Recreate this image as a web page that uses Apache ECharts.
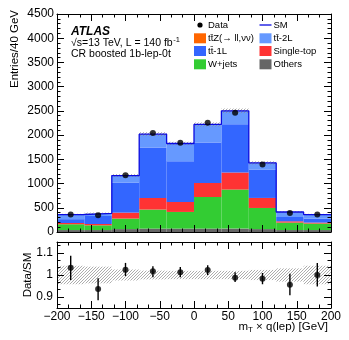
<!DOCTYPE html>
<html>
<head>
<meta charset="utf-8">
<script src="https://cdn.jsdelivr.net/npm/echarts@6/dist/echarts.min.js"></script>
<style>
  html, body { margin: 0; padding: 0; background: #fff; }
  #chart { width: 349px; height: 340px; }
</style>
</head>
<body>
<div id="chart"></div>
<script>
// bins of m_T x q(lep) [GeV]
const binEdges = [-200, -160, -120, -80, -40, 0, 40, 80, 120, 160, 200];

// stacked SM components, bottom to top
const others    = [40, 40, 60, 70, 70, 70, 70, 60, 40, 40];
const wjets     = [120, 98, 217, 393, 344, 653, 806, 436, 154, 134];
const singleTop = [26, 27, 123, 240, 206, 290, 352, 207, 27, 20];
const tt1L      = [79, 165, 621, 1042, 841, 835, 998, 587, 89, 83];
const tt2L      = [93, 54, 141, 271, 362, 368, 271, 133, 101, 81];
const ttZ       = [2, 2, 3, 4, 4, 4, 4, 3, 2, 2];

const dataCounts = [360, 345, 1172, 2046, 1840, 2253, 2460, 1393, 393, 360];

// ratio panel
const ratio   = [1.033, 0.936, 1.024, 1.017, 1.012, 1.023, 0.988, 0.983, 0.956, 1.000];
const ratioHi = [1.088, 0.985, 1.055, 1.040, 1.036, 1.044, 1.012, 1.009, 1.006, 1.055];
const ratioLo = [0.977, 0.885, 0.995, 0.990, 0.990, 1.000, 0.968, 0.958, 0.908, 0.948];
const sysUnc  = [0.042, 0.038, 0.025, 0.020, 0.019, 0.019, 0.019, 0.023, 0.030, 0.042];

const ratioTicks = [0.9, 1, 1.1];
const ratioMinorTicks = [0.8667, 0.9333, 0.9667, 1.0333, 1.0667, 1.1333];

const legendLeft  = ['Data', 'tt\u0304Z(\u2192 ll,\u03bd\u03bd)', 'tt\u0304-1L', 'W+jets'];
const legendRight = ['SM', 'tt\u0304-2L', 'Single-top', 'Others'];

const FONT = '"Liberation Sans", Arial, Helvetica, sans-serif';
const colors = {
  others: '#666666', wjets: '#33cc33', singleTop: '#ff3333',
  tt1L: '#3366ff', tt2L: '#6699ff', ttZ: '#ff6600', sm: '#0a0ae0'
};

// hatch pattern for uncertainty bands
function makeHatch(color) {
  const c = document.createElement('canvas');
  c.width = 3; c.height = 3;
  const g = c.getContext('2d');
  g.strokeStyle = color;
  g.lineWidth = 0.7;
  g.beginPath();
  g.moveTo(0, 3); g.lineTo(3, 0);
  g.moveTo(-1, 1); g.lineTo(1, -1);
  g.moveTo(2, 4); g.lineTo(4, 2);
  g.stroke();
  return { image: c, repeat: 'repeat' };
}
const hatch = makeHatch('#8a8a8a');

function measure(text, size) {
  const g = document.createElement('canvas').getContext('2d');
  g.font = size + 'px ' + FONT;
  return g.measureText(text).width;
}

const centers = binEdges.slice(0, -1).map((e, i) => (e + binEdges[i + 1]) / 2);

// build stacked rectangles
const comps = [
  ['Others', others, colors.others],
  ['W+jets', wjets, colors.wjets],
  ['Single-top', singleTop, colors.singleTop],
  ['tt-1L', tt1L, colors.tt1L],
  ['tt-2L', tt2L, colors.tt2L],
  ['ttZ', ttZ, colors.ttZ]
];
const base = centers.map(() => 0);
const stackSeries = comps.map(([name, vals, color]) => {
  const d = vals.map((v, i) => {
    const item = [binEdges[i], binEdges[i + 1], base[i], base[i] + v];
    base[i] += v;
    return item;
  });
  return {
    name: name, type: 'custom', xAxisIndex: 0, yAxisIndex: 0,
    encode: { x: [0, 1], y: [2, 3] },
    itemStyle: { color: color },
    renderItem: rectItem,
    data: d, z: 2
  };
});
const total = base.slice();

function rectItem(params, api) {
  const p0 = api.coord([api.value(0), api.value(3)]);
  const p1 = api.coord([api.value(1), api.value(2)]);
  return {
    type: 'rect',
    shape: { x: p0[0], y: p0[1], width: p1[0] - p0[0], height: p1[1] - p0[1] },
    style: { fill: api.visual('color') }
  };
}
function hatchItem(params, api) {
  const p0 = api.coord([api.value(0), api.value(3)]);
  const p1 = api.coord([api.value(1), api.value(2)]);
  return {
    type: 'rect',
    shape: { x: p0[0], y: p0[1], width: p1[0] - p0[0], height: p1[1] - p0[1] },
    style: { fill: hatch }
  };
}
function errItem(params, api) {
  const a = api.coord([api.value(0), api.value(1)]);
  const b = api.coord([api.value(0), api.value(2)]);
  return {
    type: 'line',
    shape: { x1: a[0], y1: a[1], x2: b[0], y2: b[1] },
    style: { stroke: '#000', lineWidth: 1.4 }
  };
}

const smLine = total.map((t, i) => [binEdges[i], t]);
smLine.push([binEdges[binEdges.length - 1], total[total.length - 1]]);

function xAx(grid, pos, labels) {
  return {
    gridIndex: grid, type: 'value', min: -200, max: 200, interval: 50, position: pos,
    axisLine: { onZero: false, lineStyle: { color: '#000', width: 1 } },
    axisTick: { inside: true, length: 7, lineStyle: { color: '#000' } },
    minorTick: { show: true, splitNumber: 3, length: 3.5, lineStyle: { color: '#000' } },
    axisLabel: {
      show: labels, color: '#000', fontSize: 12, fontFamily: FONT, margin: 3,
      formatter: v => String(v).replace('-', '\u2212')
    },
    splitLine: { show: false }, z: 10
  };
}
function yMain(pos, labels) {
  return {
    gridIndex: 0, type: 'value', min: 0, max: 4500, interval: 500, position: pos,
    axisLine: { onZero: false, lineStyle: { color: '#000', width: 1 } },
    axisTick: { inside: true, length: 7, lineStyle: { color: '#000' } },
    minorTick: { show: true, splitNumber: 5, length: 3.5, lineStyle: { color: '#000' } },
    axisLabel: {
      show: labels, color: '#000', fontSize: 12, fontFamily: FONT, margin: 3,
      formatter: v => String(v)
    },
    splitLine: { show: false }, z: 10
  };
}
function yRatio(pos, labels, ticks, len, line) {
  return {
    gridIndex: 1, type: 'value', min: 0.85, max: 1.15, position: pos,
    axisLine: { show: line, onZero: false, lineStyle: { color: '#000', width: 1 } },
    axisTick: { inside: true, length: len, customValues: ticks, lineStyle: { color: '#000' } },
    axisLabel: {
      show: labels, customValues: ticks, color: '#000', fontSize: 12, fontFamily: FONT, margin: 4,
      formatter: v => String(Math.round(v * 10) / 10)
    },
    splitLine: { show: false }, z: 10
  };
}

// legend graphics
const rowsY = [25, 38.3, 51, 64.3];
const legendColors = [[null, colors.ttZ, colors.tt1L, colors.wjets],
                      [null, colors.tt2L, colors.singleTop, colors.others]];
const graphics = [];
[[legendLeft, 194], [legendRight, 259.5]].forEach(([names, x0], col) => {
  names.forEach((name, r) => {
    const y = rowsY[r];
    if (r === 0 && col === 0) {
      graphics.push({ type: 'circle', shape: { cx: x0 + 6, cy: y, r: 2.6 }, style: { fill: '#000' } });
    } else if (r === 0 && col === 1) {
      graphics.push({ type: 'line', shape: { x1: x0, y1: y, x2: x0 + 12, y2: y }, style: { stroke: colors.sm, lineWidth: 1.3 } });
    } else {
      graphics.push({ type: 'rect', shape: { x: x0, y: y - 5, width: 12, height: 10 }, style: { fill: legendColors[col][r] } });
    }
    graphics.push({
      type: 'text', x: x0 + 14, y: y,
      style: { text: name, fontSize: 9.5, fontFamily: FONT, fill: '#000', textVerticalAlign: 'middle' }
    });
  });
});

// ATLAS label block
const lumiText = '\u221as=13 TeV, L = 140 fb';
graphics.push(
  { type: 'text', x: 71, y: 31.5, style: { text: 'ATLAS', fontSize: 12, fontWeight: 'bold', fontStyle: 'italic', fontFamily: FONT, fill: '#000', textVerticalAlign: 'middle' } },
  { type: 'text', x: 71, y: 43.5, style: { text: lumiText, fontSize: 10.5, fontFamily: FONT, fill: '#000', textVerticalAlign: 'middle' } },
  { type: 'text', x: 71 + measure(lumiText, 10.5) + 0.5, y: 39.5, style: { text: '-1', fontSize: 7.5, fontFamily: FONT, fill: '#000', textVerticalAlign: 'middle' } },
  { type: 'text', x: 71, y: 54, style: { text: 'CR boosted 1b-lep-0t', fontSize: 10.5, fontFamily: FONT, fill: '#000', textVerticalAlign: 'middle' } }
);

// axis titles
graphics.push(
  { type: 'text', x: 15, y: 10, rotation: Math.PI / 2, style: { text: 'Entries/40 GeV', fontSize: 11.5, fontFamily: FONT, fill: '#000', textAlign: 'right', textVerticalAlign: 'middle' } },
  { type: 'text', x: 28, y: 275, rotation: Math.PI / 2, style: { text: 'Data/SM', fontSize: 11.5, fontFamily: FONT, fill: '#000', textAlign: 'center', textVerticalAlign: 'middle' } }
);
const xt1 = 'm', xt2 = 'T', xt3 = ' \u00d7 q(lep) [GeV]';
const w1 = measure(xt1, 11.5), w2 = measure(xt2, 8), w3 = measure(xt3, 11.5);
const xStart = 328 - (w1 + w2 + w3);
graphics.push(
  { type: 'text', x: xStart, y: 327, style: { text: xt1, fontSize: 11.5, fontFamily: FONT, fill: '#000', textVerticalAlign: 'middle' } },
  { type: 'text', x: xStart + w1, y: 330, style: { text: xt2, fontSize: 8, fontFamily: FONT, fill: '#000', textVerticalAlign: 'middle' } },
  { type: 'text', x: xStart + w1 + w2, y: 327, style: { text: xt3, fontSize: 11.5, fontFamily: FONT, fill: '#000', textVerticalAlign: 'middle' } }
);

const chart = echarts.init(document.getElementById('chart'), null, { renderer: 'canvas' });
const option = {
  animation: false,
  backgroundColor: '#fff',
  grid: [
    { left: 57, right: 18, top: 14, height: 218, outerBoundsMode: 'none', containLabel: false },
    { left: 57, right: 18, top: 242, height: 66, outerBoundsMode: 'none', containLabel: false }
  ],
  xAxis: [xAx(0, 'bottom', false), xAx(0, 'top', false), xAx(1, 'bottom', true), xAx(1, 'top', false)],
  yAxis: [
    yMain('left', true), yMain('right', false),
    yRatio('left', true, ratioTicks, 7, true), yRatio('right', false, ratioTicks, 7, true),
    yRatio('left', false, ratioMinorTicks, 3.5, false), yRatio('right', false, ratioMinorTicks, 3.5, false)
  ],
  graphic: graphics,
  series: stackSeries.concat([
    {
      name: 'SM unc', type: 'custom', xAxisIndex: 0, yAxisIndex: 0,
      encode: { x: [0, 1], y: [2, 3] }, renderItem: hatchItem, z: 3,
      data: total.map((t, i) => [binEdges[i], binEdges[i + 1], t * (1 - sysUnc[i]), t * (1 + sysUnc[i])])
    },
    {
      name: 'SM', type: 'line', xAxisIndex: 0, yAxisIndex: 0, step: 'end',
      data: smLine, symbol: 'none', lineStyle: { color: colors.sm, width: 1.3 }, z: 4
    },
    {
      name: 'Data', type: 'scatter', xAxisIndex: 0, yAxisIndex: 0,
      data: centers.map((c, i) => [c, dataCounts[i]]),
      symbolSize: 6, itemStyle: { color: '#000' }, z: 6
    },
    {
      name: 'Ratio unc', type: 'custom', xAxisIndex: 2, yAxisIndex: 2,
      encode: { x: [0, 1], y: [2, 3] }, renderItem: hatchItem, z: 3,
      data: centers.map((c, i) => [binEdges[i], binEdges[i + 1], 1 - sysUnc[i], 1 + sysUnc[i]])
    },
    {
      name: 'Ratio err', type: 'custom', xAxisIndex: 2, yAxisIndex: 2,
      encode: { x: 0, y: [1, 2] }, renderItem: errItem, z: 5,
      data: centers.map((c, i) => [c, ratioLo[i], ratioHi[i]])
    },
    {
      name: 'Ratio', type: 'scatter', xAxisIndex: 2, yAxisIndex: 2,
      data: centers.map((c, i) => [c, ratio[i]]),
      symbolSize: 6, itemStyle: { color: '#000' }, z: 6
    }
  ])
};
chart.setOption(option);
</script>
</body>
</html>
